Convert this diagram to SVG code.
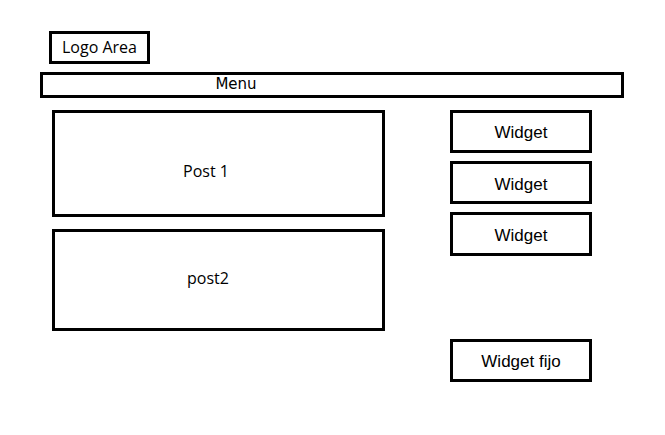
<svg xmlns="http://www.w3.org/2000/svg" width="665" height="435" viewBox="0 0 665 435">
<style>
rect{fill:#fff;stroke:#000;stroke-width:3}
.a{font-family:"Open Sans","DejaVu Sans",sans-serif;font-size:16px;text-anchor:middle}
.w{font-family:"Liberation Sans",Arial,sans-serif;font-size:17px;text-anchor:middle}
</style>
<rect x="0" y="0" width="665" height="435" style="stroke:none"/>
<g id="logo"><rect x="50.5" y="32.5" width="98" height="30"/><text class="a" x="99.5" y="53">Logo Area</text></g>
<g id="menu"><rect x="41.5" y="73.5" width="581" height="23"/><text x="236" y="89" style="font-family:'DejaVu Sans',sans-serif;font-size:15px;text-anchor:middle">Menu</text></g>
<g id="post1"><rect x="53.5" y="111.5" width="330" height="104"/><text class="a" x="206" y="177">Post 1</text></g>
<g id="post2"><rect x="53.5" y="230.5" width="330" height="99"/><text class="a" x="208" y="284">post2</text></g>
<g id="w1"><rect x="451.5" y="111.5" width="139" height="40"/><text class="w" x="521" y="138">Widget</text></g>
<g id="w2"><rect x="451.5" y="162.5" width="139" height="40"/><text class="w" x="521" y="190">Widget</text></g>
<g id="w3"><rect x="451.5" y="213.5" width="139" height="41"/><text class="w" x="521" y="241">Widget</text></g>
<g id="w4"><rect x="451.5" y="340.5" width="139" height="40"/><text class="w" x="521" y="367">Widget fijo</text></g>
<g id="connectors"/>
</svg>
